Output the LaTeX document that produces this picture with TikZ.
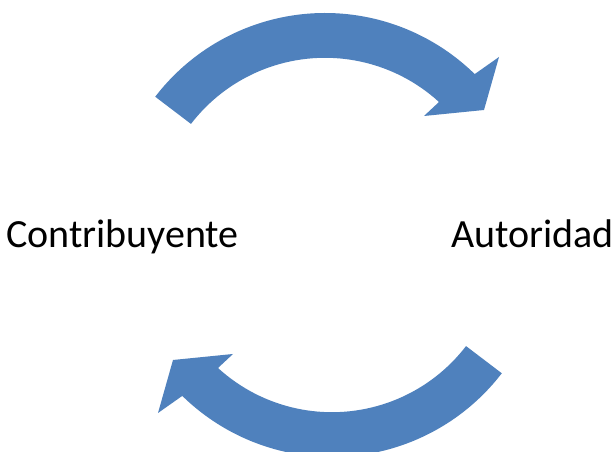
\documentclass[tikz,border=0pt]{standalone}
\usepackage{fontspec}
\setmainfont{Carlito}
\definecolor{arrowblue}{HTML}{4F81BD}
\begin{document}
\begin{tikzpicture}[x=1pt,y=1pt,
  bigarrow/.style={fill=arrowblue,draw=none},
  label/.style={inner sep=0pt,font=\fontsize{40}{48}\selectfont}]
\clip (0,0) rectangle (616,452);
\fill[white] (0,0) rectangle (616,452);
% upper curved arrow (Contribuyente -> Autoridad)
\path[bigarrow] (325,225) ++(142.5:214)
    arc[start angle=142.5,end angle=45.6,radius=214]
    -- (499,395) -- (484,342) -- (424,336)
    -- (439,350)
    arc[start angle=47.6,end angle=142.5,radius=169] -- cycle;
% lower curved arrow (Autoridad -> Contribuyente)
\begin{scope}[rotate around={180:(328.5,217)}]
\path[bigarrow] (325,225) ++(142.5:214)
    arc[start angle=142.5,end angle=45.6,radius=214]
    -- (499,395) -- (484,342) -- (424,336)
    -- (439,350)
    arc[start angle=47.6,end angle=142.5,radius=169] -- cycle;
\end{scope}
\node[label,anchor=base west] (contrib) at (6,204) {Contribuyente};
\node[label,anchor=base east] (autor) at (614,204) {Autoridad};
\end{tikzpicture}
\end{document}
